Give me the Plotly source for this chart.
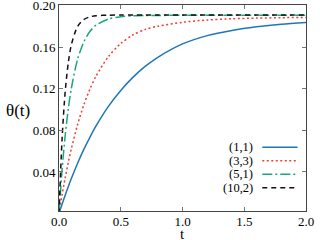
import plotly.graph_objects as go

# time samples (t)
t = [0, 0.025, 0.05, 0.075, 0.1, 0.15, 0.2, 0.25, 0.3, 0.4, 0.5, 0.6, 0.7, 0.8,
     1.0, 1.2, 1.4, 1.6, 1.8, 2.0]

# theta(t) for each parameter pair
theta_1_1 = [0, 0.0090, 0.0177, 0.0259, 0.0337, 0.0482, 0.0614, 0.0733, 0.0842, 0.1030,
             0.1183, 0.1311, 0.1416, 0.1501, 0.1630, 0.1710, 0.1760, 0.1795, 0.1820, 0.1837]
theta_3_3 = [0, 0.0180, 0.0343, 0.0490, 0.0623, 0.0853, 0.1041, 0.1195, 0.1321, 0.1508,
             0.1634, 0.1718, 0.1770, 0.1800, 0.1838, 0.1860, 0.1872, 0.1878, 0.1882, 0.1885]
theta_5_1 = [0, 0.0421, 0.0750, 0.1005, 0.1204, 0.1480, 0.1647, 0.1749, 0.1810, 0.1870,
             0.1892, 0.1900, 0.1903, 0.1904, 0.1905, 0.1905, 0.1905, 0.1905, 0.1905, 0.1905]
theta_10_2 = [0, 0.0721, 0.1169, 0.1448, 0.1622, 0.1796, 0.1864, 0.1890, 0.1901, 0.1906,
              0.1907, 0.1907, 0.1907, 0.1907, 0.1907, 0.1907, 0.1907, 0.1907, 0.1907, 0.1907]

labels = ["(1,1)", "(3,3)", "(5,1)", "(10,2)"]
series = [theta_1_1, theta_3_3, theta_5_1, theta_10_2]
colors = ["#1f77b4", "#ee4035", "#1aa57f", "#111111"]
dashes = ["solid", "2px,2.5px", "10px,3px,2px,3px", "5px,4px"]

xticks = [0, 0.5, 1.0, 1.5, 2.0]
yticks = [0.04, 0.08, 0.12, 0.16, 0.20]

FONT = "Liberation Serif"

fig = go.Figure()
for lab, ys, c, d in zip(labels, series, colors, dashes):
    fig.add_trace(go.Scatter(x=t, y=ys, mode="lines", name=lab,
                             line=dict(color=c, width=1.5, dash=d, shape="spline", smoothing=0.8),
                             showlegend=False))

# manual legend (text left of the line sample, as in the reference)
leg_y = [0.310, 0.2444, 0.1787, 0.113]
for lab, c, d, yy in zip(labels, colors, dashes, leg_y):
    fig.add_annotation(x=0.79, y=yy, xref="paper", yref="paper", text=lab,
                       showarrow=False, xanchor="right", yanchor="middle",
                       borderpad=0, font=dict(family=FONT, size=12.5, color="#000"))
    fig.add_shape(type="line", xref="paper", yref="paper", x0=0.823, x1=0.966,
                  y0=yy, y1=yy, line=dict(color=c, width=1.5, dash=d))

fig.add_annotation(x=-0.165, y=0.49, xref="paper", yref="paper", text="θ(t)",
                   showarrow=False, xanchor="center", yanchor="middle",
                   font=dict(family=FONT, size=17, color="#000"))

axis_common = dict(showline=True, linecolor="#444", linewidth=1, mirror="allticks",
                   ticks="inside", ticklen=4, tickcolor="#777", showgrid=False,
                   zeroline=False, ticklabeloverflow="allow",
                   tickfont=dict(family=FONT, size=13, color="#000"))

fig.add_annotation(x=0.5, y=-0.148, xref="paper", yref="paper", text="t",
                   showarrow=False, xanchor="center", yanchor="bottom",
                   height=13, borderpad=0,
                   font=dict(family=FONT, size=15, color="#000"))

fig.update_xaxes(range=[0, 2.0], tickvals=xticks, tickformat=".1f",
                 ticklabelstandoff=-2, **axis_common)
fig.update_yaxes(range=[0.0025, 0.2004], tickvals=yticks, tickformat=".2f", **axis_common)

fig.update_layout(width=320, height=240, margin=dict(l=59, r=14, t=5, b=29, autoexpand=False),
                  plot_bgcolor="white", paper_bgcolor="white",
                  font=dict(family=FONT))

fig.write_html("out.html", config={"displayModeBar": False},
               post_script="document.body.style.margin='0';")
